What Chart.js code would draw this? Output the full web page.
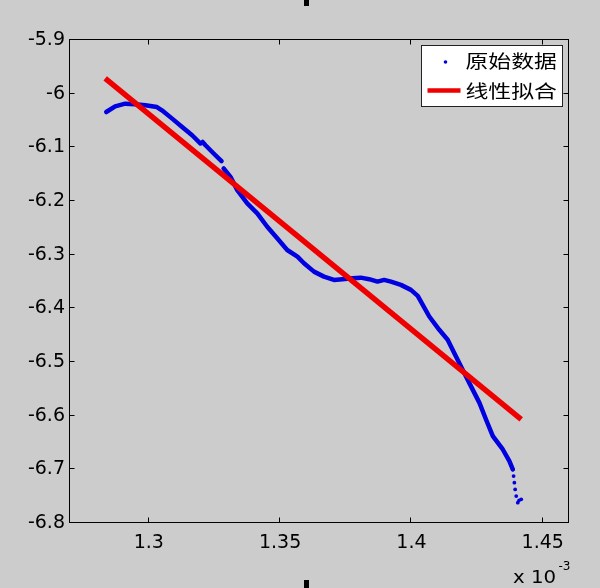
<!DOCTYPE html>
<html><head><meta charset="utf-8">
<script src="https://cdn.jsdelivr.net/npm/chart.js@4/dist/chart.umd.min.js"></script>
<style>
html,body{margin:0;padding:0;background:#cccccc;}
#wrap{position:relative;width:600px;height:588px;overflow:hidden;}
canvas{display:block;}
.mark{position:absolute;background:#000;width:5px;left:304px;}
</style></head><body>
<div id="wrap"><canvas id="c" width="600" height="588"></canvas>
<div class="mark" style="top:0;height:6px"></div>
<div class="mark" style="top:580px;height:8px"></div>
</div>
<script>
// ---- data (x in units of 1e-3) ----
const seriesNames = ['原始数据', '线性拟合'];
const rawX = [1.2838,1.2872,1.2910,1.2948,1.2987,1.3031,1.3050,1.3089,1.3127,1.3165,1.3197,1.3205,1.3216,1.3247,1.3277,
  1.3285,
  1.3285,1.3311,1.3337,1.3375,1.3413,1.3451,1.3489,1.3527,1.3566,1.3591,1.3629,1.3667,1.3705,1.3737,1.3776,1.3807,
  1.3839,1.3871,1.3896,1.3922,1.3960,1.3998,1.4024,
  1.4068,1.4106,1.4138,1.4163,1.4195,1.4227,1.4259,1.4284,1.4310,1.4348,1.4373,
  1.4386,1.4389,1.4392,1.4395,1.4399,1.4405,1.4410,1.4418];
const rawY = [-6.0342,-6.0236,-6.0186,-6.0199,-6.0217,-6.0249,-6.0310,-6.0465,-6.0621,-6.0775,-6.0929,-6.0900,-6.0961,-6.1115,-6.1258,
  null,
  -6.1394,-6.1550,-6.1797,-6.2045,-6.2230,-6.2480,-6.2695,-6.2913,-6.3037,-6.3160,-6.3316,-6.3409,-6.3470,-6.3457,-6.3439,-6.3428,
  -6.3457,-6.3502,-6.3470,-6.3502,-6.3563,-6.3656,-6.3768,
  -6.4152,-6.4400,-6.4586,-6.4833,-6.5143,-6.5454,-6.5762,-6.6072,-6.6383,-6.6630,-6.6848,
  -6.7002,-6.7126,-6.7249,-6.7374,-6.7498,-6.7621,-6.7578,-6.7559];
const fitX = [1.2834, 1.4418];
const fitY = [-5.9716, -6.6070];
const xRange = [1.27, 1.46];
const yRange = [-6.8, -5.9];
const xTicks = [1.3, 1.35, 1.4, 1.45];
const xTickLabels = ['1.3', '1.35', '1.4', '1.45'];
const yTicks = [-5.9, -6, -6.1, -6.2, -6.3, -6.4, -6.5, -6.6, -6.7, -6.8];
const yTickLabels = ['-5.9', '-6', '-6.1', '-6.2', '-6.3', '-6.4', '-6.5', '-6.6', '-6.7', '-6.8'];
const xExponent = ['x 10', '-3'];
const tailStartX = 1.4386; // raw samples from here are drawn as separate dots

const BLUE = '#0000e0', RED = '#ee0000';
const tickFont = {family: '"DejaVu Sans", sans-serif', size: 19};

const deco = {
  id: 'deco',
  afterDraw(chart) {
    const ctx = chart.ctx, a = chart.chartArea;
    const xs = chart.scales.x, ys = chart.scales.y;
    const L = Math.round(a.left) - 0.5, R = Math.round(a.right) - 0.5;
    const T = Math.round(a.top) - 0.5, B = Math.round(a.bottom) - 0.5;
    ctx.save();
    ctx.strokeStyle = '#000'; ctx.lineWidth = 1;
    ctx.strokeRect(L, T, R - L, B - T);
    ctx.beginPath();
    xTicks.forEach(v => {
      const p = Math.round(xs.getPixelForValue(v)) - 0.5;
      ctx.moveTo(p, B); ctx.lineTo(p, B - 5);
      ctx.moveTo(p, T); ctx.lineTo(p, T + 5);
    });
    yTicks.forEach(v => {
      const p = Math.round(ys.getPixelForValue(v)) - 0.5;
      ctx.moveTo(L, p); ctx.lineTo(L + 5, p);
      ctx.moveTo(R, p); ctx.lineTo(R - 5, p);
    });
    ctx.stroke();

    // legend
    const bw = 141, bh = 61;
    const bx = R - 6 - bw, by = T + 6;
    ctx.fillStyle = '#fff';
    ctx.fillRect(bx, by, bw, bh);
    ctx.strokeStyle = '#222';
    ctx.strokeRect(bx, by, bw, bh);
    const row1 = by + 15.5, row2 = by + 46;
    ctx.fillStyle = BLUE;
    ctx.beginPath(); ctx.arc(bx + 24, row1 + 1, 1.8, 0, Math.PI * 2); ctx.fill();
    ctx.strokeStyle = RED; ctx.lineWidth = 4.5;
    ctx.beginPath(); ctx.moveTo(bx + 6, row2 - 1); ctx.lineTo(bx + 39, row2 - 1); ctx.stroke();
    ctx.fillStyle = '#000';
    ctx.font = '18px "Noto Sans CJK SC"';
    ctx.textBaseline = 'middle'; ctx.textAlign = 'left';
    [row1, row2].forEach((ry, i) => {
      ctx.save(); ctx.translate(bx + 44, ry); ctx.scale(1.27, 1);
      ctx.fillText(seriesNames[i], 0, 0); ctx.restore();
    });

    // exponent label
    ctx.textBaseline = 'alphabetic';
    ctx.font = '18px "DejaVu Sans"';
    ctx.save(); ctx.translate(513, 582.5); ctx.scale(1.1, 1);
    ctx.fillText(xExponent[0], 0, 0); ctx.restore();
    ctx.font = '12px "DejaVu Sans"';
    ctx.fillText(xExponent[1], 558.5, 570);
    ctx.restore();
  }
};

new Chart(document.getElementById('c'), {
  type: 'scatter',
  data: {
    datasets: [
      {
        label: seriesNames[1],
        data: fitX.map((x, i) => ({x, y: fitY[i]})),
        showLine: true, borderColor: RED, borderWidth: 5.5, pointRadius: 0,
        borderCapStyle: 'butt', order: 0
      },
      {
        label: seriesNames[0],
        data: rawX.map((x, i) => ({x, y: rawY[i]})),
        showLine: true, spanGaps: false, borderColor: BLUE, backgroundColor: BLUE,
        borderWidth: 4.5, borderJoinStyle: 'round', borderCapStyle: 'round',
        pointRadius: c => (c.raw && c.raw.x >= tailStartX) ? 1.9 : 0,
        pointBorderWidth: 0, pointHoverRadius: 0,
        segment: { borderColor: c => c.p0.parsed.x >= tailStartX ? 'rgba(0,0,0,0)' : undefined },
        order: 1
      }
    ]
  },
  options: {
    responsive: false, animation: false, devicePixelRatio: 1,
    layout: { padding: { top: 40, right: 31, left: 0, bottom: 0 } },
    plugins: { legend: { display: false }, tooltip: { enabled: false }, title: { display: false } },
    scales: {
      x: {
        type: 'linear', min: xRange[0], max: xRange[1],
        afterBuildTicks: s => { s.ticks = xTicks.map(v => ({value: v})); },
        afterFit: s => { s.height = 65; },
        grid: { display: false, drawTicks: false }, border: { display: false },
        ticks: { callback: (v, i) => xTickLabels[i], font: tickFont, color: '#000',
                 padding: 9, maxRotation: 0, autoSkip: false }
      },
      y: {
        type: 'linear', min: yRange[0], max: yRange[1],
        afterBuildTicks: s => { s.ticks = yTicks.map(v => ({value: v})); },
        afterFit: s => { s.width = 70; },
        grid: { display: false, drawTicks: false }, border: { display: false },
        ticks: { callback: (v, i) => yTickLabels[i], font: tickFont, color: '#000',
                 padding: 5, autoSkip: false }
      }
    }
  },
  plugins: [deco]
});
</script>
</body></html>
